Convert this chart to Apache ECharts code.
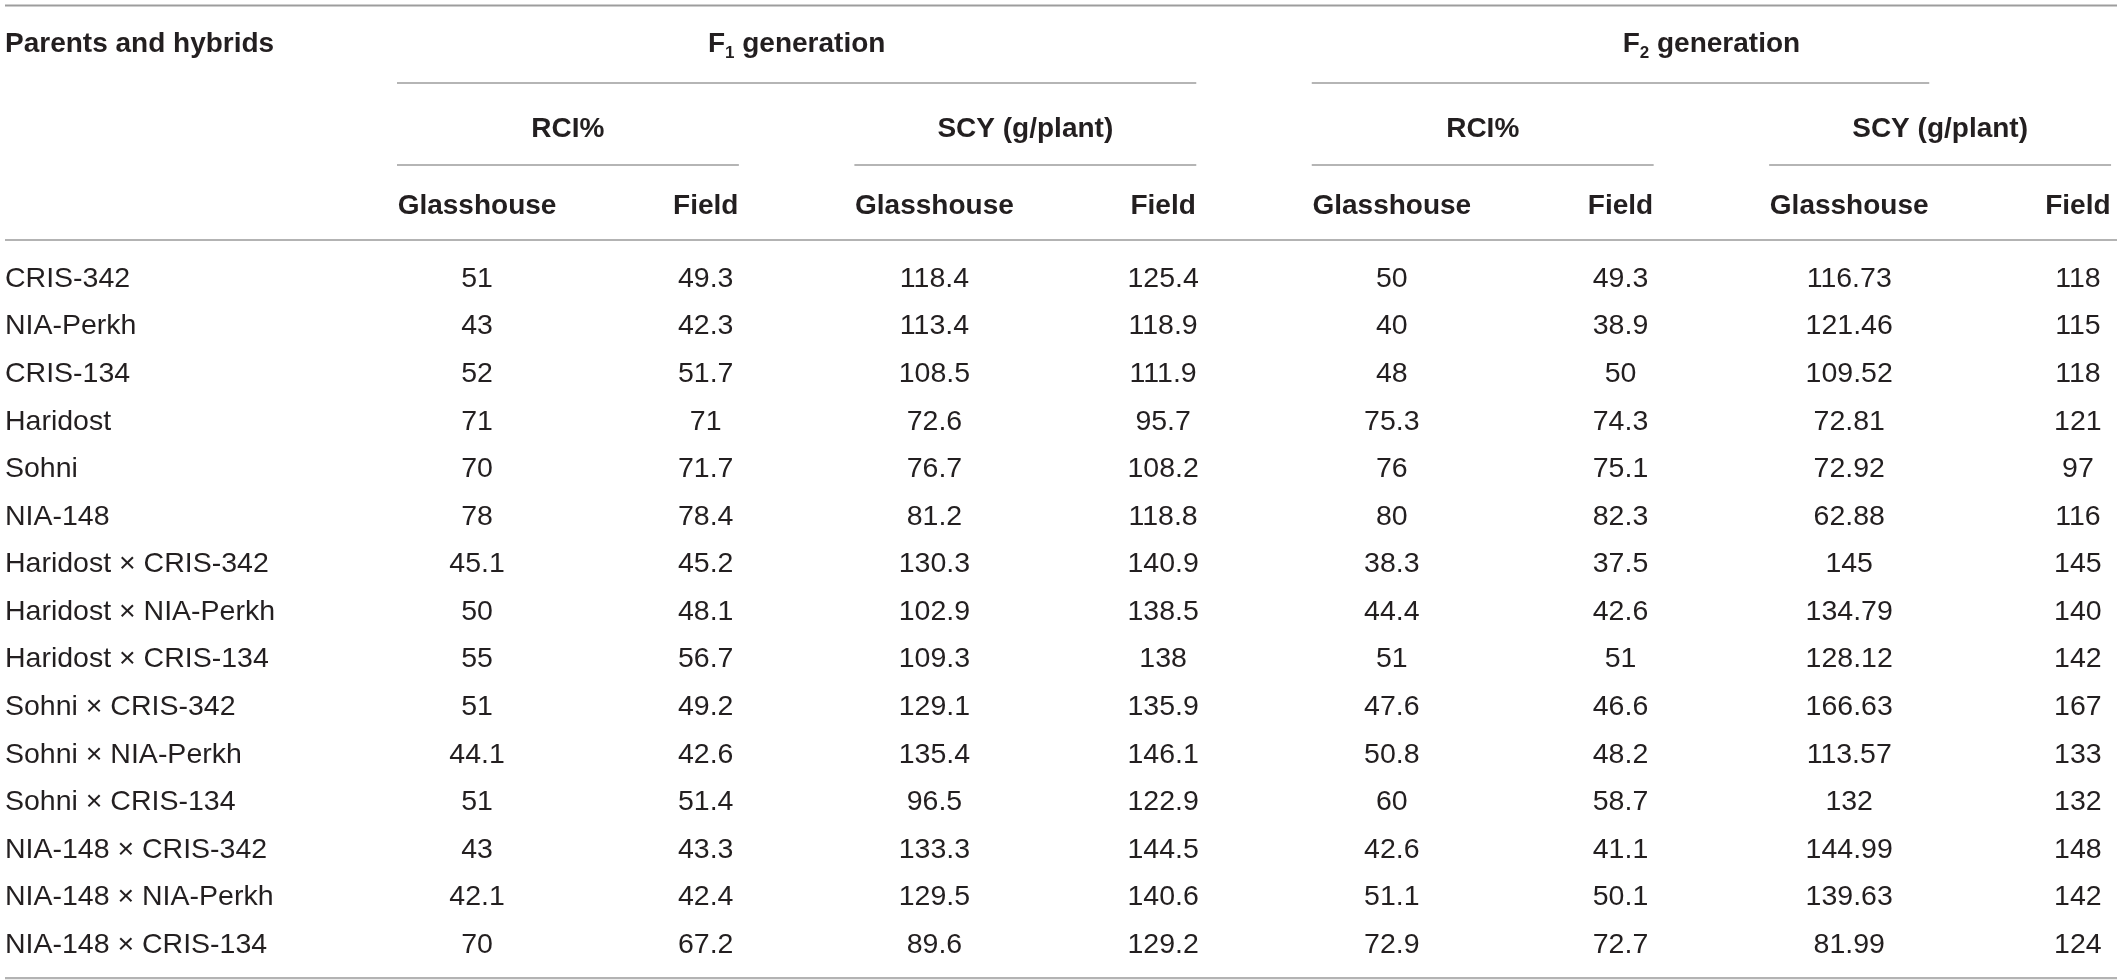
<!DOCTYPE html>
<html>
<head>
    <meta charset="utf-8">
    <title>RCI% and SCY of parents and hybrids</title>
    <style>
        html, body { margin: 0; padding: 0; background: #fff; }
        #main { width: 2117px; height: 980px; }
    </style>
</head>
<body>
<div id="main"></div>
<script src="https://cdn.jsdelivr.net/npm/echarts@6/dist/echarts.min.js"></script>
<script type="text/javascript">
    // ---- data ----
    var genotypes = ['CRIS-342', 'NIA-Perkh', 'CRIS-134', 'Haridost', 'Sohni', 'NIA-148',
        'Haridost × CRIS-342', 'Haridost × NIA-Perkh', 'Haridost × CRIS-134',
        'Sohni × CRIS-342', 'Sohni × NIA-Perkh', 'Sohni × CRIS-134',
        'NIA-148 × CRIS-342', 'NIA-148 × NIA-Perkh', 'NIA-148 × CRIS-134'];

    var f1RciGlasshouse = [51, 43, 52, 71, 70, 78, 45.1, 50, 55, 51, 44.1, 51, 43, 42.1, 70];
    var f1RciField = [49.3, 42.3, 51.7, 71, 71.7, 78.4, 45.2, 48.1, 56.7, 49.2, 42.6, 51.4, 43.3, 42.4, 67.2];
    var f1ScyGlasshouse = [118.4, 113.4, 108.5, 72.6, 76.7, 81.2, 130.3, 102.9, 109.3, 129.1, 135.4, 96.5, 133.3, 129.5, 89.6];
    var f1ScyField = [125.4, 118.9, 111.9, 95.7, 108.2, 118.8, 140.9, 138.5, 138, 135.9, 146.1, 122.9, 144.5, 140.6, 129.2];
    var f2RciGlasshouse = [50, 40, 48, 75.3, 76, 80, 38.3, 44.4, 51, 47.6, 50.8, 60, 42.6, 51.1, 72.9];
    var f2RciField = [49.3, 38.9, 50, 74.3, 75.1, 82.3, 37.5, 42.6, 51, 46.6, 48.2, 58.7, 41.1, 50.1, 72.7];
    var f2ScyGlasshouse = [116.73, 121.46, 109.52, 72.81, 72.92, 62.88, 145, 134.79, 128.12, 166.63, 113.57, 132, 144.99, 139.63, 81.99];
    var f2ScyField = [118, 115, 118, 121, 97, 116, 145, 140, 142, 167, 133, 132, 148, 142, 124];

    var columns = [f1RciGlasshouse, f1RciField, f1ScyGlasshouse, f1ScyField,
        f2RciGlasshouse, f2RciField, f2ScyGlasshouse, f2ScyField];

    var stubTitle = 'Parents and hybrids';
    var subHeaders = ['Glasshouse', 'Field', 'Glasshouse', 'Field', 'Glasshouse', 'Field', 'Glasshouse', 'Field'];
    var traits = ['RCI%', 'SCY (g/plant)', 'RCI%', 'SCY (g/plant)'];
    var traitSpans = [[1, 2], [3, 4], [5, 6], [7, 8]];
    var generations = ['1', '2'];
    var generationSpans = [[1, 4], [5, 8]];

    // ---- layout (axis units) ----
    var X_MIN = -1.064, X_MAX = 8.171;
    var Y_MIN = -5.8, Y_MAX = 14.8;
    var LEVEL = {
        topRule: -5.684, gen: -4.93, genRule: -4.055, trait: -3.14, traitRule: -2.331,
        sub: -1.53, headRule: -0.755, bottomRule: 14.759
    };
    var HALF_GLASS = 0.35, HALF_FIELD = 0.145;
    var genRuleRight = [4 + HALF_FIELD, 7 + HALF_GLASS];
    var NUDGE = 3; // px, text baseline correction

    var FONT = '"Liberation Sans", Arial, Helvetica, sans-serif';
    var INK = '#231f20';

    function txt(p, str, bold, align) {
        return {
            type: 'text', x: p[0], y: p[1] + NUDGE,
            style: {
                text: str, fill: INK, fontFamily: FONT, fontSize: bold ? 28 : 28.5,
                fontWeight: bold ? 'bold' : 'normal',
                align: align || 'center', verticalAlign: 'middle'
            }
        };
    }
    function rule(p1, p2, color, width) {
        return {
            type: 'line',
            shape: { x1: p1[0], y1: p1[1], x2: p2[0], y2: p2[1] },
            style: { stroke: color, lineWidth: width }
        };
    }

    var bodyData = [], bodyText = [];
    columns.forEach(function (col, c) {
        col.forEach(function (v, r) {
            bodyData.push([c + 1, r]);
            bodyText.push(String(v));
        });
    });

    var chart = echarts.init(document.getElementById('main'));

    var option = {
        animation: false,
        backgroundColor: '#fff',
        grid: { left: 5, right: 0, top: 0, bottom: 0 },
        xAxis: { type: 'value', min: X_MIN, max: X_MAX, show: false },
        yAxis: { type: 'value', min: Y_MIN, max: Y_MAX, inverse: true, show: false },
        series: [
            {
                // horizontal rules of the table
                type: 'custom', clip: false, silent: true,
                data: [[LEVEL.topRule, 0], [LEVEL.headRule, 1], [LEVEL.bottomRule, 2]],
                encode: { x: 1, y: 0 },
                renderItem: function (params, api) {
                    var y = api.value(0);
                    var colors = ['#9d9d9d', '#b3b3b3', '#b3b3b3'];
                    return rule(api.coord([X_MIN, y]), api.coord([X_MAX, y]), colors[params.dataIndex], 2.2);
                }
            },
            {
                // stub column: genotype names
                type: 'custom', clip: false, silent: true,
                data: genotypes.map(function (g, r) { return [X_MIN, r]; }),
                renderItem: function (params, api) {
                    return txt(api.coord([api.value(0), api.value(1)]), genotypes[params.dataIndex], false, 'left');
                }
            },
            {
                type: 'custom', clip: false, silent: true,
                data: [[X_MIN, LEVEL.gen]],
                renderItem: function (params, api) {
                    return txt(api.coord([api.value(0), api.value(1)]), stubTitle, true, 'left');
                }
            },
            {
                // generation headers with rule underneath
                type: 'custom', clip: false, silent: true,
                data: generationSpans,
                renderItem: function (params, api) {
                    var i = params.dataIndex;
                    var left = api.value(0) - HALF_GLASS;
                    var right = Math.min(api.value(1) + HALF_FIELD, X_MAX);
                    var mid = api.coord([(left + right) / 2, LEVEL.gen]);
                    var tok = { fill: INK, fontFamily: FONT, fontWeight: 'bold' };
                    return {
                        type: 'group',
                        children: [
                            {
                                type: 'text', x: mid[0], y: mid[1] + NUDGE,
                                style: {
                                    text: '{b|F}{s|' + generations[i] + '}{b| generation}',
                                    fill: INK, fontFamily: FONT, fontSize: 28, fontWeight: 'bold',
                                    align: 'center', verticalAlign: 'middle',
                                    rich: {
                                        b: Object.assign({ fontSize: 28, lineHeight: 34 }, tok),
                                        s: Object.assign({ fontSize: 17, lineHeight: 17, verticalAlign: 'bottom' }, tok)
                                    }
                                }
                            },
                            rule(api.coord([left, LEVEL.genRule]), api.coord([genRuleRight[i], LEVEL.genRule]), '#9d9d9d', 1.6)
                        ]
                    };
                }
            },
            {
                // trait headers with rule underneath
                type: 'custom', clip: false, silent: true,
                data: traitSpans,
                renderItem: function (params, api) {
                    var left = api.value(0) - HALF_GLASS;
                    var right = Math.min(api.value(1) + HALF_FIELD, X_MAX);
                    return {
                        type: 'group',
                        children: [
                            txt(api.coord([(left + right) / 2, LEVEL.trait]), traits[params.dataIndex], true),
                            rule(api.coord([left, LEVEL.traitRule]), api.coord([right, LEVEL.traitRule]), '#9d9d9d', 1.6)
                        ]
                    };
                }
            },
            {
                // Glasshouse / Field headers
                type: 'custom', clip: false, silent: true,
                data: subHeaders.map(function (s, c) { return [c + 1, LEVEL.sub]; }),
                renderItem: function (params, api) {
                    return txt(api.coord([api.value(0), api.value(1)]), subHeaders[params.dataIndex], true);
                }
            },
            {
                // body cells
                type: 'custom', clip: false, silent: true,
                data: bodyData,
                renderItem: function (params, api) {
                    return txt(api.coord([api.value(0), api.value(1)]), bodyText[params.dataIndex], false);
                }
            }
        ]
    };

    chart.setOption(option);
</script>
</body>
</html>
